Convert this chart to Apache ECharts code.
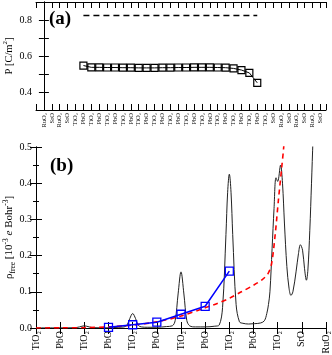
<!DOCTYPE html>
<html><head><meta charset="utf-8">
<script src="https://cdn.jsdelivr.net/npm/echarts@6/dist/echarts.min.js"></script>
<style>html,body{margin:0;padding:0;background:#fff}#c{width:332px;height:355px}</style>
</head><body><div id="c"></div>
<script>
// Panel (a): layer labels
const layersA = ['RuO₂','SrO','RuO₂','SrO','TiO₂','PbO','TiO₂','PbO','TiO₂','PbO','TiO₂','PbO','TiO₂','PbO','TiO₂','PbO','TiO₂','PbO','TiO₂','PbO','TiO₂','PbO','TiO₂','PbO','TiO₂','PbO','TiO₂','PbO','TiO₂','SrO','RuO₂','SrO','RuO₂','SrO','RuO₂','SrO'];
// Panel (a): polarization per layer
const polX = [5,6,7,8,9,10,11,12,13,14,15,16,17,18,19,20,21,22,23,24,25,26,27];
const polY = [0.547,0.537,0.537,0.536,0.536,0.535,0.535,0.534,0.534,0.534,0.535,0.535,0.536,0.536,0.537,0.537,0.537,0.536,0.535,0.531,0.522,0.506,0.451];
// Panel (a): bulk reference (dashed)
const bulkX = [5,27];
const bulkY = [0.825,0.825];
// Panel (b): layer labels
const layersB = ['TiO₂','PbO','TiO₂','PbO','TiO₂','PbO','TiO₂','PbO','TiO₂','PbO','TiO₂','SrO','RuO₂'];
// Panel (b): free charge density (black curve)
const densX = [0,1.0,1.6,1.8,2.0,2.2,2.4,3.0,3.4,3.64,3.76,3.88,4.0,4.12,4.24,4.36,4.6,5.0,5.4,5.64,5.76,5.88,6.0,6.12,6.24,6.36,6.6,7.0,7.4,7.58,7.72,7.86,7.93,8.0,8.07,8.14,8.28,8.42,8.56,8.8,9.05,9.3,9.45,9.55,9.62,9.68,9.77,9.85,9.93,10.0,10.12,10.2,10.28,10.38,10.47,10.55,10.63,10.76,10.86,10.94,11.03,11.11,11.19,11.25,11.33,11.4,11.46,11.54];
const densY = [0.0003,0.0003,0.0008,0.003,0.006,0.003,0.0008,0.0005,0.002,0.003,0.007,0.026,0.04,0.026,0.007,0.003,0.002,0.002,0.004,0.006,0.021,0.094,0.155,0.094,0.021,0.006,0.003,0.003,0.005,0.008,0.057,0.258,0.375,0.425,0.375,0.258,0.065,0.017,0.013,0.011,0.012,0.014,0.02,0.04,0.065,0.1,0.22,0.33,0.415,0.405,0.45,0.4,0.29,0.17,0.11,0.09,0.1,0.155,0.205,0.23,0.215,0.165,0.132,0.16,0.27,0.4,0.52,0.7];
// Panel (b): model (red dashed)
const modelX = [0,1,2,3,4,5,6,7,7.5,8,8.5,9,9.35,9.6,9.75,9.9,10.03,10.17,10.25,10.3];
const modelY = [0,0.0005,0.001,0.003,0.008,0.017,0.033,0.056,0.068,0.082,0.1,0.118,0.133,0.15,0.178,0.26,0.353,0.445,0.5,0.55];
// Panel (b): layer-averaged values (blue squares)
const avgX = [3,4,5,6,7,8];
const avgY = [0.002,0.009,0.016,0.038,0.06,0.157];

const F = 'Liberation Serif';
const zip = (a,b) => a.map((v,i)=>[v,b[i]]);
const ax = {lineStyle:{color:'#000',width:1}};
const tk = (len) => ({show:true,inside:true,length:len,lineStyle:{color:'#000',width:1}});

const chart = echarts.init(document.getElementById('c'), null, {renderer:'canvas'});
chart.setOption({
  animation:false,
  backgroundColor:'#fff',
  grid:[
    {left:36,top:2,width:290,height:108,outerBoundsMode:'none',containLabel:false},
    {left:36,top:147,width:290,height:181,outerBoundsMode:'none',containLabel:false}
  ],
  xAxis:[
    {gridIndex:0,type:'value',min:-1,max:35.7,interval:1,axisLine:ax,axisTick:tk(6),splitLine:{show:false},
     axisLabel:{rotate:90,fontFamily:F,fontSize:6.5,color:'#000',margin:3,
       formatter:v=>{const i=Math.round(v);return (Math.abs(v-i)<1e-6&&layersA[i])?layersA[i]:'';}}},
    {gridIndex:0,type:'value',position:'top',min:-1,max:35.7,interval:1,axisLine:ax,axisTick:tk(6),axisLabel:{show:false},splitLine:{show:false}},
    {gridIndex:1,type:'value',min:0,max:12,interval:1,axisLine:ax,axisTick:tk(6),splitLine:{show:false},
     axisLabel:{rotate:90,fontFamily:F,fontSize:10,color:'#000',margin:3,
       formatter:v=>{const i=Math.round(v);return layersB[i]||'';}}},
    {gridIndex:1,type:'value',position:'top',min:0,max:12,interval:1,axisLine:ax,axisTick:tk(6),axisLabel:{show:false},splitLine:{show:false}}
  ],
  yAxis:[
    {gridIndex:0,type:'value',min:0.3,max:0.9,interval:0.1,axisLine:ax,axisTick:tk(5),splitLine:{show:false},
     axisLabel:{fontFamily:F,fontSize:10,color:'#000',margin:4,
       formatter:v=>{const t=Math.round(v*10);return (t===4||t===6||t===8)?(t/10).toFixed(1):'';}},
     name:'{n|P [C/m}{s|2}{n|]}',nameLocation:'middle',nameGap:19,nameRotate:90,nameMoveOverlap:false,
     nameTextStyle:{rich:{n:{fontFamily:F,fontSize:10.5,color:'#000',lineHeight:15},s:{fontFamily:F,fontSize:7,color:'#000',verticalAlign:'top',lineHeight:15}}}},
    {gridIndex:0,type:'value',position:'right',min:0.3,max:0.9,interval:0.1,axisLine:ax,axisTick:tk(5),axisLabel:{show:false},splitLine:{show:false}},
    {gridIndex:1,type:'value',min:0,max:0.5,interval:0.1,axisLine:ax,axisTick:tk(6),minorTick:{show:true,splitNumber:2,length:3,lineStyle:{color:'#000'}},splitLine:{show:false},
     axisLabel:{fontFamily:F,fontSize:10,color:'#000',margin:4,formatter:v=>v.toFixed(1)},
     name:'{n|ρ}{b|free}{n| [10}{s|-3}{i| e}{n| Bohr}{s|-3}{n|]}',nameLocation:'middle',nameGap:19,nameRotate:90,nameMoveOverlap:false,
     nameTextStyle:{rich:{n:{fontFamily:F,fontSize:11,color:'#000',lineHeight:15},i:{fontFamily:F,fontStyle:'italic',fontSize:11,color:'#000',lineHeight:15},s:{fontFamily:F,fontSize:7.5,color:'#000',verticalAlign:'top',lineHeight:15},b:{fontFamily:F,fontSize:7.5,color:'#000',verticalAlign:'bottom',lineHeight:15}}}},
    {gridIndex:1,type:'value',position:'right',min:0,max:0.5,interval:0.1,axisLine:ax,axisTick:tk(6),minorTick:{show:true,splitNumber:2,length:3,lineStyle:{color:'#000'}},axisLabel:{show:false},splitLine:{show:false}}
  ],
  graphic:[
    {type:'text',left:49,top:10,style:{text:'(a)',font:'bold 19px "Liberation Serif"',fill:'#000'}},
    {type:'text',left:50,top:157,style:{text:'(b)',font:'bold 19px "Liberation Serif"',fill:'#000'}}
  ],
  series:[
    {type:'line',xAxisIndex:0,yAxisIndex:0,data:zip(bulkX,bulkY),symbol:'none',lineStyle:{color:'#000',width:1.5,type:[6,4]}},
    {type:'line',xAxisIndex:0,yAxisIndex:0,data:zip(polX,polY),symbol:'rect',symbolSize:7,
     lineStyle:{color:'#000',width:1},itemStyle:{color:'none',borderColor:'#000',borderWidth:1.2}},
    {type:'line',xAxisIndex:2,yAxisIndex:2,data:zip(densX,densY),symbol:'none',smooth:0.35,clip:true,
     lineStyle:{color:'#222',width:1}},
    {type:'line',xAxisIndex:2,yAxisIndex:2,data:zip(modelX,modelY),symbol:'none',smooth:0.3,clip:true,
     lineStyle:{color:'#ff0000',width:1.6,type:[5,4]}},
    {type:'line',xAxisIndex:2,yAxisIndex:2,data:zip(avgX,avgY),symbol:'rect',symbolSize:8,
     lineStyle:{color:'#0000ff',width:1.5},itemStyle:{color:'none',borderColor:'#0000ff',borderWidth:1.3}}
  ]
});
</script></body></html>
